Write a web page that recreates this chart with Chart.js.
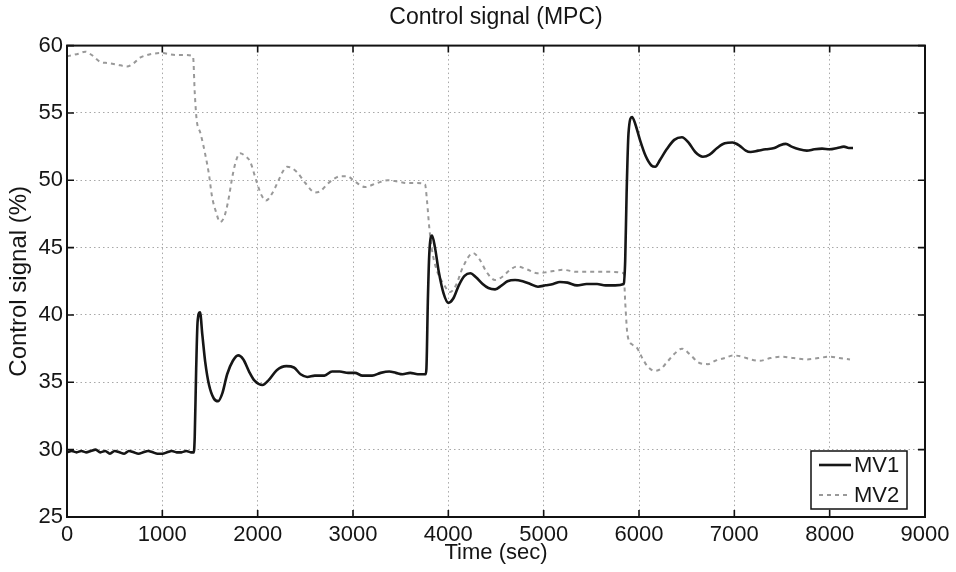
<!DOCTYPE html>
<html>
<head>
<meta charset="utf-8">
<title>Control signal (MPC)</title>
<script src="https://cdn.jsdelivr.net/npm/chart.js@4/dist/chart.umd.min.js"></script>
<style>
    html, body { margin: 0; padding: 0; background: #ffffff; }
    #wrap { width: 956px; height: 572px; }
</style>
</head>
<body>
<div id="wrap"><canvas id="mpc-chart"></canvas></div>
<script>
// Axis ticks
const xTicks = [0, 1000, 2000, 3000, 4000, 5000, 6000, 7000, 8000, 9000];
const yTicks = [25, 30, 35, 40, 45, 50, 55, 60];

// MV1 (solid black) - time in sec, value in %
const mv1Time = [
    0, 50, 100, 150, 200, 250, 300, 350, 400, 450, 500, 550, 600, 650, 700, 750, 800, 850, 900, 950,
    1000, 1050, 1100, 1150, 1200, 1250, 1300, 1330,
    1340, 1355, 1370, 1395, 1420, 1450, 1490, 1540, 1585, 1630, 1680, 1740, 1795, 1850, 1910, 1970,
    2050, 2120, 2200, 2300, 2380, 2450, 2520, 2600, 2700, 2780, 2860, 2950, 3020, 3100, 3200, 3290,
    3380, 3450, 3520, 3600, 3680, 3760,
    3770, 3785, 3800, 3829, 3860, 3900, 3950, 4000, 4050, 4110, 4170, 4230, 4290, 4360, 4420, 4490,
    4560, 4620, 4700, 4780, 4860, 4940, 5020, 5100, 5170, 5250, 5350, 5450, 5560, 5650, 5750, 5840,
    5855, 5870, 5890, 5927, 5960, 6010, 6070, 6130, 6170, 6220, 6290, 6370, 6450, 6520, 6590, 6670,
    6740, 6820, 6900, 6980, 7050, 7120, 7170, 7250, 7330, 7420, 7480, 7540, 7600, 7680, 7760, 7840,
    7920, 8000, 8080, 8150, 8200, 8245
];
const mv1Value = [
    29.8, 29.9, 29.8, 29.9, 29.8, 29.9, 30.0, 29.8, 29.9, 29.7, 29.9, 29.8, 29.7, 29.9, 29.8, 29.7, 29.8, 29.9, 29.8, 29.7,
    29.7, 29.8, 29.9, 29.8, 29.8, 29.9, 29.8, 29.8,
    31, 36, 39.5, 40.2, 38.5, 36.5, 34.8, 33.8, 33.6, 34.2, 35.6, 36.6, 37.0, 36.7, 35.8, 35.1,
    34.8, 35.2, 35.9, 36.2, 36.1, 35.6, 35.4, 35.5, 35.5, 35.8, 35.8, 35.7, 35.7, 35.5, 35.5, 35.7,
    35.8, 35.7, 35.6, 35.7, 35.6, 35.6,
    36, 41, 44.5, 45.9, 45, 43.2, 41.6, 40.9, 41.2, 42.2, 42.9, 43.1, 42.8, 42.3, 42.0, 41.9,
    42.2, 42.5, 42.6, 42.5, 42.3, 42.1, 42.2, 42.3, 42.45, 42.4, 42.2, 42.3, 42.3, 42.2, 42.2, 42.3,
    44, 49, 53.5, 54.7, 54.2, 53, 51.8, 51.1, 51.0, 51.5, 52.3, 53.0, 53.2, 52.8, 52.1, 51.75,
    51.9, 52.4, 52.75, 52.8, 52.6, 52.2, 52.1, 52.2, 52.3, 52.4, 52.6, 52.7, 52.5, 52.3, 52.2, 52.3,
    52.35, 52.3, 52.4, 52.5, 52.4, 52.4
];

// MV2 (dashed grey)
const mv2Time = [
    0, 60, 120, 190, 260, 346, 430, 520, 629, 700, 766, 840, 902, 1007, 1080, 1154, 1240, 1322,
    1340, 1360, 1400, 1448, 1490, 1521, 1565, 1605, 1650, 1689, 1741, 1780, 1815, 1870, 1920, 1993,
    2040, 2087, 2150, 2213, 2260, 2308, 2360, 2413, 2500, 2601, 2660, 2727, 2800, 2864, 2937, 3021,
    3126, 3252, 3367, 3470, 3566, 3660, 3755,
    3776, 3800, 3829, 3880, 3950, 4018, 4080, 4150, 4259, 4330, 4400, 4490, 4560, 4640, 4720, 4820,
    4930, 5050, 5203, 5350, 5500, 5696, 5840,
    5855, 5880, 5930, 5979, 6042, 6100, 6168, 6230, 6294, 6370, 6451, 6530, 6619, 6724, 6800, 6900,
    6986, 7080, 7170, 7269, 7380, 7500, 7620, 7762, 7880, 8004, 8100, 8213
];
const mv2Value = [
    59.2, 59.3, 59.4, 59.55, 59.3, 58.8, 58.7, 58.6, 58.45, 58.7, 59.1, 59.3, 59.4, 59.45, 59.35, 59.3, 59.3, 59.2,
    56.5, 54.5, 53.5, 52.0, 50.4, 48.8, 47.6, 46.9, 47.3, 48.4, 50.5, 51.6, 52.0, 51.8, 51.4, 49.8,
    48.9, 48.5, 49.0, 49.9, 50.6, 51.0, 50.9, 50.6, 49.8, 49.1, 49.2, 49.7, 50.1, 50.3, 50.3, 49.9,
    49.5, 49.8, 50.0, 49.9, 49.8, 49.8, 49.7,
    48.5, 46.5, 44.8, 43.3, 42.3, 41.7, 42.2, 43.5, 44.6, 44.1, 43.2, 42.6, 42.8, 43.3, 43.6, 43.4,
    43.1, 43.2, 43.35, 43.2, 43.2, 43.2, 43.1,
    41.0, 38.5, 37.8, 37.55, 36.7, 36.1, 35.85, 36.0, 36.5, 37.1, 37.5, 37.1, 36.5, 36.35, 36.6, 36.8,
    37.0, 36.9, 36.7, 36.6, 36.8, 36.9, 36.8, 36.7, 36.8, 36.9, 36.8, 36.7
];

const FONT = "'Liberation Sans', Arial, Helvetica, sans-serif";
const TEXT = '#151515';

function toPoints(times, values) {
    return times.map((t, i) => ({ x: t, y: values[i] }));
}

// Box round the axes, inward tick marks on all four sides, and the legend
const matlabAxes = {
    id: 'matlabAxes',
    afterDraw(chart) {
        const ctx = chart.ctx;
        const area = chart.chartArea;
        const xs = chart.scales.x;
        const ys = chart.scales.y;
        const tick = 7;

        ctx.save();
        ctx.strokeStyle = '#111';
        ctx.lineWidth = 1.6;
        ctx.setLineDash([]);
        ctx.beginPath();
        xTicks.forEach(v => {
            const px = xs.getPixelForValue(v);
            ctx.moveTo(px, area.bottom);
            ctx.lineTo(px, area.bottom - tick);
            ctx.moveTo(px, area.top);
            ctx.lineTo(px, area.top + tick);
        });
        yTicks.forEach(v => {
            const py = ys.getPixelForValue(v);
            ctx.moveTo(area.left, py);
            ctx.lineTo(area.left + tick, py);
            ctx.moveTo(area.right, py);
            ctx.lineTo(area.right - tick, py);
        });
        ctx.stroke();

        ctx.lineWidth = 2;
        ctx.strokeRect(area.left, area.top, area.right - area.left, area.bottom - area.top);

        // Legend box, bottom right inside the axes
        const w = 96, h = 58;
        const bx = area.right - 18 - w;
        const by = area.bottom - 8 - h;
        ctx.fillStyle = '#ffffff';
        ctx.fillRect(bx, by, w, h);
        ctx.lineWidth = 1.5;
        ctx.strokeRect(bx, by, w, h);

        ctx.font = '22px ' + FONT;
        ctx.textBaseline = 'middle';
        chart.data.datasets.forEach((ds, i) => {
            const ly = by + 14 + i * 30;
            ctx.strokeStyle = ds.borderColor;
            ctx.lineWidth = ds.borderWidth;
            ctx.setLineDash(ds.borderDash || []);
            ctx.beginPath();
            ctx.moveTo(bx + 8, ly);
            ctx.lineTo(bx + 40, ly);
            ctx.stroke();
            ctx.setLineDash([]);
            ctx.fillStyle = TEXT;
            ctx.fillText(ds.label, bx + 43, ly + 1);
        });
        ctx.restore();
    }
};

function initChart() {
    const ctx = document.getElementById('mpc-chart').getContext('2d');
    new Chart(ctx, {
        type: 'line',
        data: {
            datasets: [{
                label: 'MV1',
                data: toPoints(mv1Time, mv1Value),
                borderColor: '#161616',
                borderWidth: 2.6,
                pointRadius: 0,
                cubicInterpolationMode: 'monotone'
            }, {
                label: 'MV2',
                data: toPoints(mv2Time, mv2Value),
                borderColor: '#999999',
                borderWidth: 2,
                borderDash: [4, 4],
                pointRadius: 0,
                cubicInterpolationMode: 'monotone'
            }]
        },
        options: {
            responsive: true,
            maintainAspectRatio: false,
            animation: false,
            layout: {
                padding: { left: 0, right: 31, top: 0, bottom: 0 }
            },
            plugins: {
                legend: { display: false },
                tooltip: { enabled: false },
                title: {
                    display: true,
                    text: 'Control signal (MPC)',
                    color: TEXT,
                    fullSize: false,
                    font: { family: FONT, size: 23, weight: 'normal' },
                    padding: { top: 4, bottom: 14 }
                }
            },
            scales: {
                x: {
                    type: 'linear',
                    min: 0,
                    max: 9000,
                    afterBuildTicks: scale => { scale.ticks = xTicks.map(v => ({ value: v })); },
                    afterFit: scale => { scale.height = 55; },
                    ticks: {
                        color: TEXT,
                        padding: 5,
                        maxRotation: 0,
                        font: { family: FONT, size: 22 },
                        callback: value => String(value)
                    },
                    grid: { color: '#a8a8a8', lineWidth: 1, drawTicks: false, tickLength: 0 },
                    border: { display: false, dash: [1.5, 3] },
                    title: {
                        display: true,
                        text: 'Time (sec)',
                        color: TEXT,
                        font: { family: FONT, size: 22 },
                        padding: { top: 0, bottom: 6 }
                    }
                },
                y: {
                    min: 25,
                    max: 60,
                    afterBuildTicks: scale => { scale.ticks = yTicks.map(v => ({ value: v })); },
                    afterFit: scale => { scale.width = 67; },
                    ticks: {
                        color: TEXT,
                        padding: 4,
                        font: { family: FONT, size: 22 },
                        callback: value => String(value)
                    },
                    grid: { color: '#a8a8a8', lineWidth: 1, drawTicks: false, tickLength: 0 },
                    border: { display: false, dash: [1.5, 3] },
                    title: {
                        display: true,
                        text: 'Control signal (%)',
                        color: TEXT,
                        font: { family: FONT, size: 24 },
                        padding: { top: 5, bottom: 0 }
                    }
                }
            }
        },
        plugins: [matlabAxes]
    });
}

initChart();
</script>
</body>
</html>
